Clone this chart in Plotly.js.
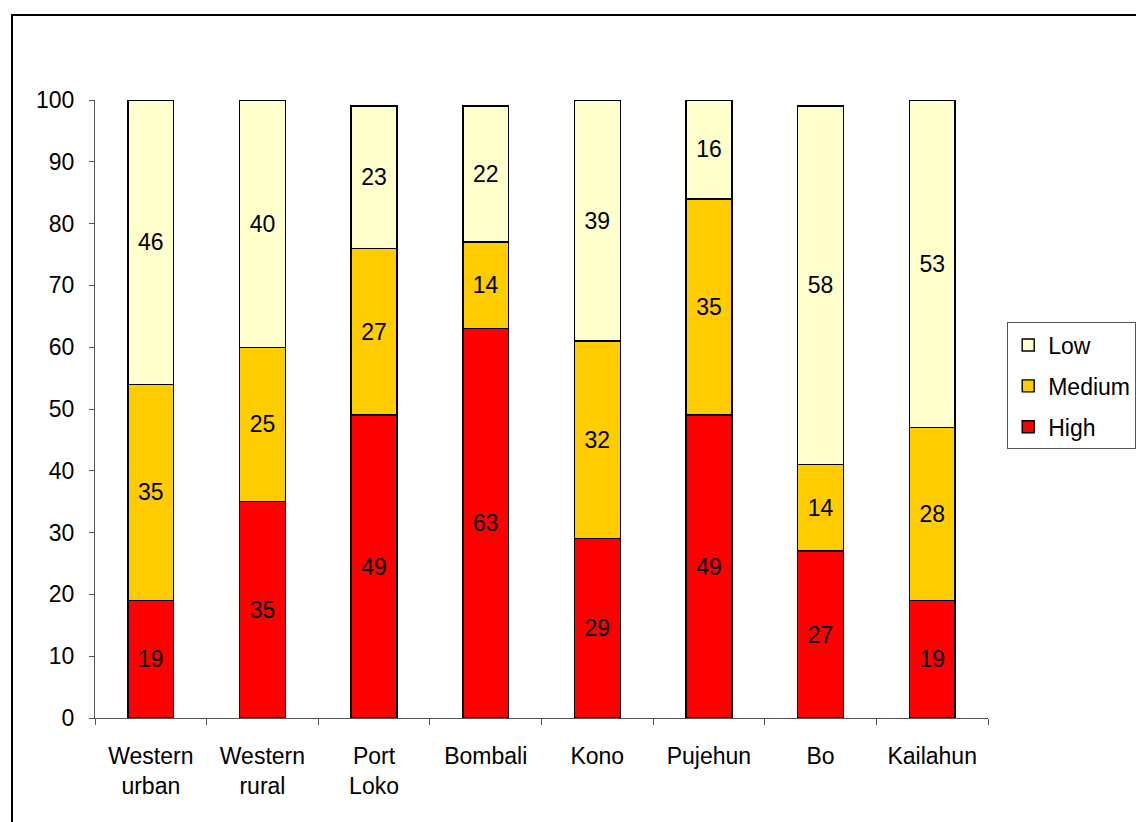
<!DOCTYPE html>
<html>
<head>
<meta charset="utf-8">
<script src="https://cdn.plot.ly/plotly-3.0.1.min.js"></script>
<style>
  html, body { margin: 0; padding: 0; background: #fff; overflow: hidden; }
  #wrap { position: relative; width: 1136px; height: 822px; }
  #frame { position: absolute; left: 11px; top: 14px; width: 1200px; height: 900px; border: 2px solid #000; box-sizing: border-box; pointer-events: none; z-index: 5; }
  #chart { position: absolute; left: 0; top: 0; width: 1136px; height: 822px; }
</style>
</head>
<body>
<div id="wrap">
  <div id="chart"></div>
  <div id="frame"></div>
</div>
<script>
const categories = ["Western<br>urban", "Western<br>rural", "Port<br>Loko", "Bombali", "Kono", "Pujehun", "Bo", "Kailahun"];
const highValues = [19, 35, 49, 63, 29, 49, 27, 19];
const mediumValues = [35, 25, 27, 14, 32, 35, 14, 28];
const lowValues = [46, 40, 23, 22, 39, 16, 58, 53];
const yTicks = [0, 10, 20, 30, 40, 50, 60, 70, 80, 90, 100];

const FONT = "Liberation Sans, Arial, sans-serif";
const FS = 23;

function barTrace(name, values, color, rank) {
  return {
    type: "bar",
    name: name,
    legendgroup: name,
    legendrank: rank,
    x: categories,
    y: values,
    text: values.map(String),
    textposition: "inside",
    insidetextanchor: "middle",
    textangle: 0,
    constraintext: "none",
    textfont: { family: FONT, size: FS, color: "#000" },
    marker: { color: color, line: { color: "#000", width: 1.4 } },
    hoverinfo: "skip"
  };
}

const data = [
  barTrace("High", highValues, "#FF0000", 3),
  barTrace("Medium", mediumValues, "#FFCC00", 2),
  barTrace("Low", lowValues, "#FFFFCC", 1)
];

const layout = {
  width: 1136,
  height: 822,
  margin: { l: 95, r: 148, t: 100, b: 104, autoexpand: false },
  barmode: "stack",
  bargap: 0.59,
  paper_bgcolor: "#fff",
  plot_bgcolor: "#fff",
  font: { family: FONT, size: FS, color: "#000" },
  showlegend: true,
  legend: {
    x: 1.0215,
    y: 0.640,
    xanchor: "left",
    yanchor: "top",
    traceorder: "grouped",
    tracegroupgap: 8,
    bordercolor: "#555",
    borderwidth: 1,
    bgcolor: "#fff",
    font: { family: FONT, size: FS, color: "#000" },
    itemwidth: 30
  },
  xaxis: {
    type: "category",
    tickson: "boundaries",
    ticks: "outside",
    ticklen: 6,
    tickcolor: "#555",
    showline: true,
    linecolor: "#555",
    linewidth: 1,
    showgrid: false,
    zeroline: false,
    ticklabelstandoff: 17,
    tickfont: { family: FONT, size: FS, color: "#000" },
    fixedrange: true
  },
  yaxis: {
    range: [0, 100],
    tickvals: yTicks,
    ticktext: yTicks.map(String),
    ticks: "outside",
    ticklen: 5,
    tickcolor: "#555",
    showline: true,
    linecolor: "#555",
    linewidth: 1,
    showgrid: false,
    zeroline: false,
    ticklabelstandoff: 10,
    tickfont: { family: FONT, size: FS, color: "#000" },
    fixedrange: true
  }
};

Plotly.newPlot("chart", data, layout, { displayModeBar: false, staticPlot: true });
</script>
</body>
</html>
